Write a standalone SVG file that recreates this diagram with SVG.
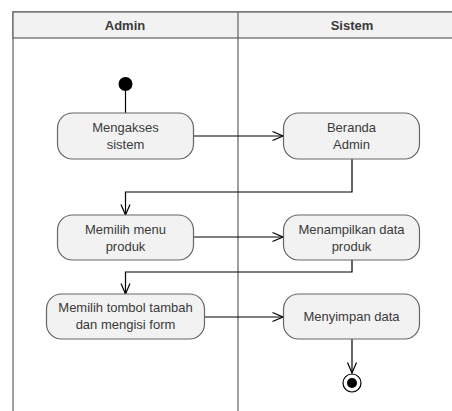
<svg xmlns="http://www.w3.org/2000/svg" width="452" height="411" viewBox="0 0 452 411">
<defs>
<style>
.lane{fill:#ffffff;stroke:#606060;stroke-width:1.2}
.hdr{fill:#f2f2f2;stroke:#606060;stroke-width:1.2}
.box{fill:#f2f2f2;stroke:#666666;stroke-width:1.2}
.t{font-family:"Liberation Sans",Arial,sans-serif;font-size:13px;fill:#3a3a3a;text-anchor:middle}
.h{font-family:"Liberation Sans",Arial,sans-serif;font-size:13px;font-weight:bold;fill:#3a3a3a;text-anchor:middle}
.c{fill:none;stroke:#000000;stroke-width:1.2}
</style>
<marker id="arr" viewBox="0 0 12 12" refX="11.500" refY="6" markerWidth="12" markerHeight="12" markerUnits="userSpaceOnUse" orient="auto">
<path d="M1,1.500 L11.500,6 L1,10.500" fill="none" stroke="#000" stroke-width="1.2"/>
</marker>
</defs>
<g id="lanes">
<rect class="lane" x="13" y="12" width="460" height="420"/>
<rect class="hdr" x="13" y="12" width="460" height="26"/>
<line x1="238" y1="12" x2="238" y2="411" stroke="#606060" stroke-width="1.2"/>
<text class="h" x="125" y="30">Admin</text>
<text class="h" x="352" y="30">Sistem</text>
</g>
<g id="connectors">
<line class="c" x1="125.500" y1="88" x2="125.500" y2="113"/>
<line class="c" x1="194" y1="136" x2="283" y2="136" marker-end="url(#arr)"/>
<polyline class="c" points="352,159 352,192 125.500,192 125.500,215" marker-end="url(#arr)"/>
<line class="c" x1="194" y1="237" x2="283" y2="237" marker-end="url(#arr)"/>
<polyline class="c" points="352,260 352,272 125.500,272 125.500,294" marker-end="url(#arr)"/>
<line class="c" x1="204" y1="317" x2="283" y2="317" marker-end="url(#arr)"/>
<line class="c" x1="352" y1="339" x2="352" y2="373" marker-end="url(#arr)"/>
</g>
<g id="start"><circle cx="125.500" cy="84" r="7" fill="#000"/></g>
<g id="n1"><rect class="box" x="57.500" y="113" width="136" height="46" rx="15"/>
<text class="t" x="125.500" y="132">Mengakses</text><text class="t" x="125.500" y="149">sistem</text></g>
<g id="n2"><rect class="box" x="283.500" y="113" width="136" height="46" rx="15"/>
<text class="t" x="351.500" y="132">Beranda</text><text class="t" x="351.500" y="149">Admin</text></g>
<g id="n3"><rect class="box" x="57.500" y="215" width="136" height="45" rx="15"/>
<text class="t" x="125.500" y="234">Memilih menu</text><text class="t" x="125.500" y="251">produk</text></g>
<g id="n4"><rect class="box" x="283.500" y="215" width="136" height="45" rx="15"/>
<text class="t" x="351.500" y="234">Menampilkan data</text><text class="t" x="351.500" y="251">produk</text></g>
<g id="n5"><rect class="box" x="46.500" y="294" width="158" height="45" rx="15"/>
<text class="t" x="125.500" y="312">Memilih tombol tambah</text><text class="t" x="125.500" y="329">dan mengisi form</text></g>
<g id="n6"><rect class="box" x="283.500" y="294" width="136" height="45" rx="15"/>
<text class="t" x="351.500" y="321">Menyimpan data</text></g>
<g id="end"><circle cx="352" cy="383" r="9" fill="#fff" stroke="#000" stroke-width="1.2"/><circle cx="352" cy="383" r="5" fill="#000"/></g>
</svg>
